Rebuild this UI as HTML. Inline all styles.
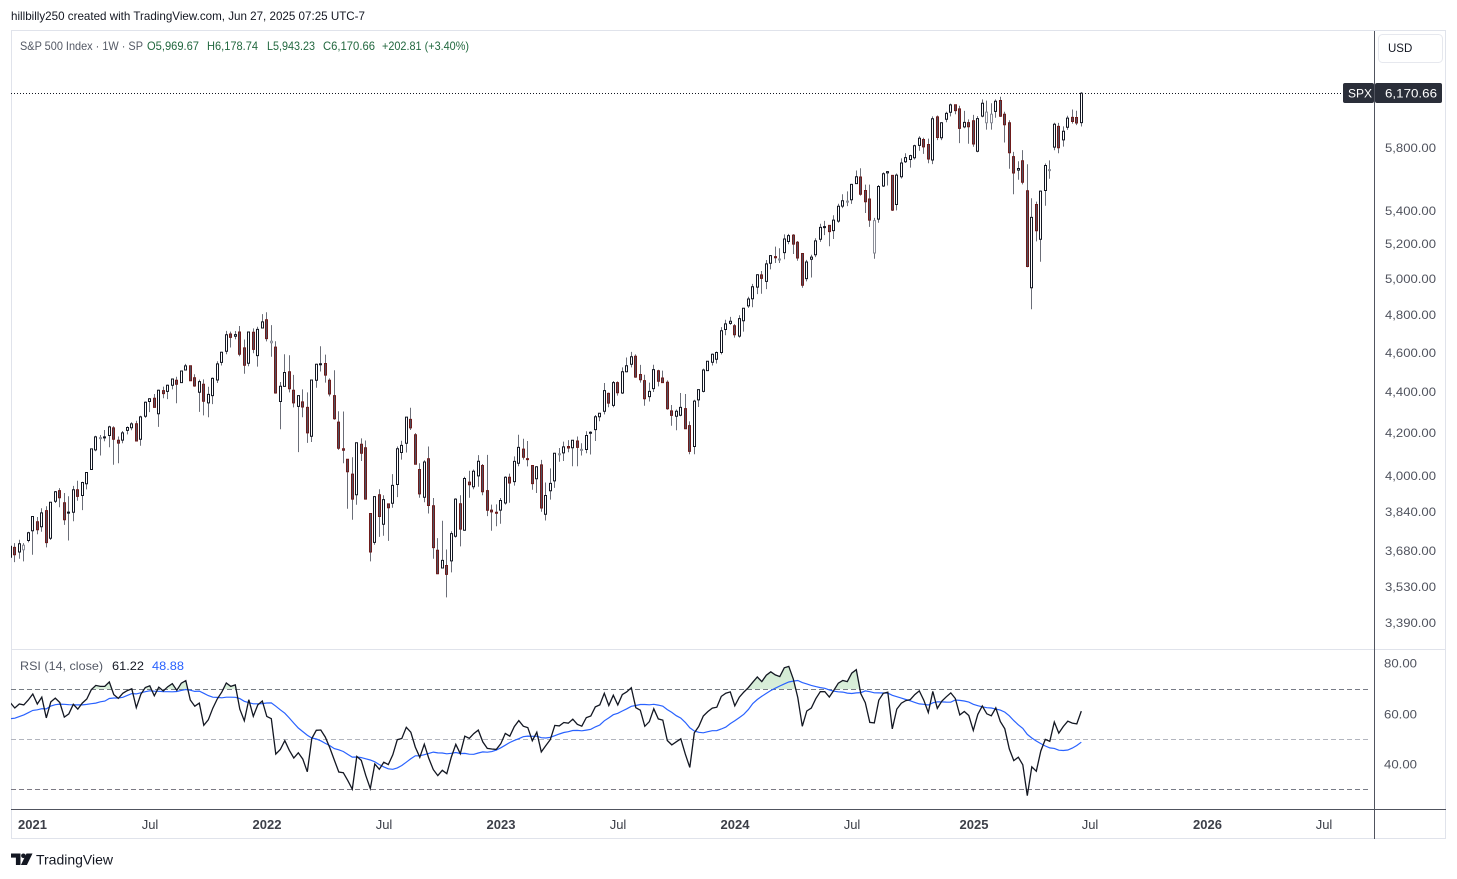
<!DOCTYPE html>
<html><head><meta charset="utf-8">
<style>
html,body{margin:0;padding:0;background:#fff;}
svg{display:block;font-family:"Liberation Sans",Arial,sans-serif;}
</style></head><body>
<svg id="s" width="1457" height="879" viewBox="0 0 1457 879" xmlns="http://www.w3.org/2000/svg">
<defs>
<clipPath id="cm"><rect x="11" y="31" width="1363" height="618"/></clipPath>
<clipPath id="cr"><rect x="11" y="650" width="1363" height="158"/></clipPath>
<clipPath id="c70"><rect x="11" y="650" width="1363" height="39.2"/></clipPath>
<clipPath id="c30"><rect x="11" y="789.6" width="1363" height="19"/></clipPath>
<linearGradient id="gg" x1="0" y1="0" x2="0" y2="1"><stop offset="0" stop-color="#4caf50" stop-opacity="0.25"/><stop offset="1" stop-color="#4caf50" stop-opacity="0.04"/></linearGradient>
<linearGradient id="gr" x1="0" y1="0" x2="0" y2="1"><stop offset="0" stop-color="#f23645" stop-opacity="0.04"/><stop offset="1" stop-color="#f23645" stop-opacity="0.25"/></linearGradient>
</defs>
<rect width="1457" height="879" fill="#fff"/>
<text x="11" y="20" font-size="12" fill="#131722" textLength="354" lengthAdjust="spacingAndGlyphs">hillbilly250 created with TradingView.com, Jun 27, 2025 07:25 UTC-7</text>

<!-- frame -->
<rect x="11.5" y="30.5" width="1434" height="808" fill="none" stroke="#e0e3eb"/>
<line x1="11" y1="649.5" x2="1446" y2="649.5" stroke="#e0e3eb"/>
<line x1="11" y1="809.5" x2="1446" y2="809.5" stroke="#50535e"/>
<line x1="1374.5" y1="31" x2="1374.5" y2="839" stroke="#50535e"/>

<!-- legend -->
<text x="20" y="50" font-size="12" fill="#555a66" textLength="123" lengthAdjust="spacingAndGlyphs">S&amp;P 500 Index · 1W · SP</text>
<text x="147" y="50" font-size="12" fill="#22683f" textLength="52" lengthAdjust="spacingAndGlyphs">O5,969.67</text>
<text x="207" y="50" font-size="12" fill="#22683f" textLength="51" lengthAdjust="spacingAndGlyphs">H6,178.74</text>
<text x="267" y="50" font-size="12" fill="#22683f" textLength="48" lengthAdjust="spacingAndGlyphs">L5,943.23</text>
<text x="323" y="50" font-size="12" fill="#22683f" textLength="52" lengthAdjust="spacingAndGlyphs">C6,170.66</text>
<text x="382" y="50" font-size="12" fill="#22683f" textLength="87" lengthAdjust="spacingAndGlyphs">+202.81 (+3.40%)</text>

<!-- USD box -->
<rect x="1378.5" y="34.5" width="64" height="28" rx="4" fill="#fff" stroke="#e6e8ee"/>
<text x="1388" y="52" font-size="11.5" fill="#131722">USD</text>

<!-- price axis labels -->
<g font-size="12" fill="#50535e">
<text x="1385" y="152" textLength="51" lengthAdjust="spacingAndGlyphs">5,800.00</text>
<text x="1385" y="215" textLength="51" lengthAdjust="spacingAndGlyphs">5,400.00</text>
<text x="1385" y="248" textLength="51" lengthAdjust="spacingAndGlyphs">5,200.00</text>
<text x="1385" y="283" textLength="51" lengthAdjust="spacingAndGlyphs">5,000.00</text>
<text x="1385" y="319" textLength="51" lengthAdjust="spacingAndGlyphs">4,800.00</text>
<text x="1385" y="357" textLength="51" lengthAdjust="spacingAndGlyphs">4,600.00</text>
<text x="1385" y="396" textLength="51" lengthAdjust="spacingAndGlyphs">4,400.00</text>
<text x="1385" y="437" textLength="51" lengthAdjust="spacingAndGlyphs">4,200.00</text>
<text x="1385" y="480" textLength="51" lengthAdjust="spacingAndGlyphs">4,000.00</text>
<text x="1385" y="516" textLength="51" lengthAdjust="spacingAndGlyphs">3,840.00</text>
<text x="1385" y="555" textLength="51" lengthAdjust="spacingAndGlyphs">3,680.00</text>
<text x="1385" y="591" textLength="51" lengthAdjust="spacingAndGlyphs">3,530.00</text>
<text x="1385" y="627" textLength="51" lengthAdjust="spacingAndGlyphs">3,390.00</text>
<text x="1384" y="667.5" textLength="33" lengthAdjust="spacingAndGlyphs">80.00</text>
<text x="1384" y="718.5" textLength="33" lengthAdjust="spacingAndGlyphs">60.00</text>
<text x="1384" y="768.5" textLength="33" lengthAdjust="spacingAndGlyphs">40.00</text>
</g>

<!-- RSI dashed levels -->
<line x1="11" y1="689.5" x2="1369" y2="689.5" stroke="#787b86" stroke-dasharray="5,3"/>
<line x1="11" y1="739.5" x2="1369" y2="739.5" stroke="#b2b5be" stroke-dasharray="5,3"/>
<line x1="11" y1="789.5" x2="1369" y2="789.5" stroke="#787b86" stroke-dasharray="5,3"/>

<!-- RSI legend -->
<text x="20" y="670" font-size="12" fill="#555a66" textLength="83" lengthAdjust="spacingAndGlyphs">RSI (14, close)</text>
<text x="112" y="670" font-size="12" fill="#131722" textLength="32" lengthAdjust="spacingAndGlyphs">61.22</text>
<text x="152" y="670" font-size="12" fill="#2962ff" textLength="32" lengthAdjust="spacingAndGlyphs">48.88</text>

<!-- time axis -->
<g font-size="13" fill="#3c3f48" text-anchor="middle">
<text x="32.5" y="829" font-weight="bold">2021</text>
<text x="150" y="829">Jul</text>
<text x="267" y="829" font-weight="bold">2022</text>
<text x="384" y="829">Jul</text>
<text x="501" y="829" font-weight="bold">2023</text>
<text x="618" y="829">Jul</text>
<text x="735" y="829" font-weight="bold">2024</text>
<text x="852" y="829">Jul</text>
<text x="974" y="829" font-weight="bold">2025</text>
<text x="1090" y="829">Jul</text>
<text x="1207.5" y="829" font-weight="bold">2026</text>
<text x="1324" y="829">Jul</text>
</g>

<g id="candles" clip-path="url(#cm)"></g>
<g id="rsi" clip-path="url(#cr)"></g>

<!-- last price line and labels -->
<line x1="11" y1="93.5" x2="1343" y2="93.5" stroke="#131722" stroke-dasharray="1,2"/>
<rect x="1343" y="83" width="31" height="20" rx="2" fill="#2a2e39"/>
<text x="1348" y="97.5" font-size="12" fill="#fff">SPX</text>
<rect x="1375" y="83" width="67" height="20" rx="2" fill="#2a2e39"/>
<text x="1385" y="97.5" font-size="12" fill="#fff" textLength="52" lengthAdjust="spacingAndGlyphs">6,170.66</text>

<!-- TradingView logo -->
<path d="M11 853.5h9.5v11.5h-4.6v-7.4h-4.9z" fill="#131722"/>
<circle cx="23.4" cy="855.8" r="2.3" fill="#131722"/>
<path d="M26.5 853.5h6l-5.6 11.5h-6z" fill="#131722"/>
<text x="36" y="864.5" font-size="14" fill="#131722" textLength="77" lengthAdjust="spacingAndGlyphs">TradingView</text>
</svg>
<script>
(function(){
var NS="http://www.w3.org/2000/svg";
var c20=[3235,3265,3330,3295,3226,3328,3380,3338,2954,2972,2711,2305,2541,2489,2790,2875,2837,2831,2930,2864,2955,3044,3194,3041,3098,3009,3130,3185,3225,3216,3271,3351,3373,3397,3508,3427,3341,3319,3298,3348,3477,3484,3465,3270,3510,3585,3558];
var pre=[[3566,3645,3556,3638],[3653,3712,3645,3699],[3694,3712,3633,3663],[3675,3726,3647,3709],[3684,3712,3636,3703],[3723,3760,3715,3756]];
var D=[
[3764,3826,3663,3825],[3803,3823,3749,3768],[3781,3861,3760,3841],[3851,3870,3694,3714],[3732,3887,3725,3887],[3892,3937,3884,3934],[3939,3950,3865,3907],[3885,3928,3789,3811],[3842,3914,3723,3842],[3844,3960,3805,3943],[3943,3983,3894,3913],[3917,3978,3853,3975],[3969,4020,3944,4020],[4034,4129,4034,4129],[4124,4191,4118,4185],[4179,4194,4098,4180],[4185,4218,4165,4181],[4192,4238,4137,4233],[4228,4236,4056,4174],[4169,4187,4062,4156],[4170,4213,4155,4204],[4216,4235,4197,4230],[4229,4255,4217,4247],[4248,4262,4164,4166],[4174,4286,4144,4281],[4284,4356,4276,4352],[4356,4372,4304,4370],[4372,4393,4327,4327],[4296,4415,4233,4412],[4410,4430,4372,4395],[4406,4440,4368,4437],[4437,4468,4416,4468],[4462,4480,4347,4442],[4450,4510,4449,4509],[4514,4545,4513,4535],[4536,4536,4458,4459],[4474,4492,4429,4433],[4402,4465,4305,4455],[4442,4466,4288,4357],[4349,4429,4279,4391],[4385,4476,4343,4471],[4463,4559,4448,4545],[4553,4608,4537,4605],[4610,4718,4595,4697],[4701,4714,4630,4683],[4689,4717,4673,4698],[4712,4744,4585,4595],[4628,4672,4495,4538],[4548,4713,4533,4712],[4711,4731,4600,4620],[4588,4740,4531,4726],[4733,4808,4733,4766],
[4778,4818,4662,4677],[4655,4749,4582,4663],[4632,4663,4395,4398],[4356,4453,4222,4432],[4431,4595,4431,4501],[4505,4590,4401,4419],[4412,4489,4327,4349],[4332,4385,4114,4385],[4354,4416,4279,4329],[4327,4401,4157,4204],[4188,4465,4161,4463],[4462,4546,4424,4543],[4541,4637,4506,4546],[4547,4593,4450,4488],[4462,4471,4381,4393],[4385,4513,4267,4272],[4256,4308,4124,4132],[4130,4307,4062,4123],[4081,4081,3859,4024],[4013,4090,3811,3901],[3920,4158,3876,4158],[4151,4178,4073,4109],[4134,4168,3900,3901],[3838,3838,3636,3675],[3715,3913,3705,3912],[3920,3945,3738,3825],[3792,3918,3743,3899],[3880,3880,3721,3863],[3883,4013,3863,3962],[3966,4140,3910,4130],[4112,4167,4079,4145],[4155,4280,4112,4280],[4269,4325,4218,4228],[4195,4203,4057,4058],[4034,4062,3907,3924],[3909,4076,3887,4068],[4083,4140,3838,3873],[3872,3906,3647,3693],[3682,3733,3584,3586],[3609,3807,3609,3640],[3619,3685,3491,3583],[3638,3762,3591,3752],[3741,3905,3735,3901],[3881,3918,3698,3771],[3766,4001,3764,3993],[3977,4028,3907,3965],[3956,4034,3945,4026],[4005,4100,3956,4072],[4052,4059,3918,3934],[3939,4101,3827,3852],[3853,3877,3764,3845],[3843,3878,3783,3840],
[3853,3906,3794,3895],[3884,4003,3877,3999],[3999,4015,3885,3973],[3979,4094,3961,4071],[4062,4195,4049,4136],[4128,4176,4079,4090],[4084,4166,4048,4079],[4052,4052,3943,3970],[3992,4049,3928,4046],[4055,4078,3846,3862],[3835,3975,3808,3917],[3938,4039,3899,3971],[3982,4110,3951,4109],[4103,4133,4069,4105],[4110,4163,4073,4138],[4140,4170,4113,4133],[4134,4170,4049,4169],[4166,4187,4049,4136],[4124,4155,4098,4124],[4126,4212,4109,4192],[4205,4212,4103,4205],[4220,4290,4166,4282],[4282,4299,4260,4299],[4308,4448,4293,4410],[4396,4400,4328,4348],[4337,4458,4328,4450],[4450,4456,4385,4399],[4398,4527,4393,4505],[4505,4578,4502,4536],[4543,4607,4527,4582],[4585,4594,4474,4478],[4491,4540,4450,4464],[4460,4490,4335,4370],[4380,4450,4356,4406],[4420,4541,4403,4516],[4510,4515,4431,4457],[4473,4511,4448,4450],[4452,4461,4316,4320],[4310,4339,4238,4288],[4284,4317,4217,4308],[4289,4398,4284,4327],[4321,4393,4223,4224],[4239,4259,4104,4117],[4140,4365,4104,4358],[4364,4415,4329,4415],[4406,4521,4401,4514],[4511,4560,4511,4559],[4554,4599,4537,4595],[4569,4609,4547,4604],[4604,4738,4594,4719],[4725,4778,4695,4755],[4758,4793,4751,4770],
[4745,4754,4682,4697],[4690,4802,4682,4784],[4772,4842,4714,4840],[4853,4903,4842,4891],[4892,4975,4846,4959],[4957,5030,4918,5027],[5026,5048,4920,5006],[4989,5111,4946,5089],[5093,5140,5057,5137],[5131,5189,5094,5124],[5111,5179,5094,5117],[5154,5261,5116,5234],[5219,5264,5203,5254],[5257,5263,5146,5204],[5215,5222,5107,5123],[5149,5150,4953,4967],[5005,5112,4989,5100],[5116,5142,5011,5128],[5142,5239,5128,5223],[5233,5325,5217,5303],[5305,5342,5257,5305],[5315,5315,5191,5278],[5284,5376,5234,5347],[5341,5447,5331,5431],[5432,5506,5420,5465],[5460,5523,5432,5460],[5471,5570,5446,5567],[5572,5655,5571,5615],[5614,5669,5497,5505],[5529,5566,5390,5459],[5476,5566,5306,5347],[5152,5360,5119,5344],[5353,5563,5331,5554],[5557,5643,5551,5635],[5640,5651,5560,5648],[5624,5624,5402,5408],[5442,5636,5406,5626],[5615,5733,5604,5703],[5711,5767,5703,5738],[5726,5757,5674,5751],[5737,5822,5726,5815],[5818,5878,5783,5865],[5857,5869,5762,5808],[5824,5863,5702,5729],[5723,6012,5696,5996],[6008,6018,5853,5870],[5868,5972,5853,5969],[5992,6044,5972,6032],[6040,6099,6012,6090],[6091,6091,6026,6051],[6063,6085,5833,5931],[5941,6049,5932,5971],[5970,5991,5829,5942],
[5982,6022,5809,5827],[5780,6014,5773,5997],[6014,6128,6006,6101],[5969,6120,5923,6041],[5969,6101,5923,6026],[6046,6128,6003,6115],[6121,6147,6008,6013],[6026,6044,5837,5955],[5969,5986,5666,5770],[5745,5775,5505,5639],[5658,5715,5597,5668],[5718,5787,5567,5581],[5527,5695,5069,5074],[4953,5481,4835,5363],[5442,5460,5220,5283],[5232,5529,5101,5525],[5529,5700,5434,5687],[5655,5720,5603,5660],[5807,5969,5786,5958],[5944,5968,5767,5803],[5854,5944,5810,5912],[5938,6016,5921,6000],[6005,6059,5963,5977],[6004,6050,5953,5967],[5969.67,6178.74,5943.23,6170.66]
];
var rows=pre.concat(D);
var K=885,LC=Math.log(6170.66),Y0=93.3;
function py(p){return Y0+K*(LC-Math.log(p));}
function fx(i){return Math.floor(32.8+4.5*i);}
var wick="",up="",upg="",dn="",dnd="",prev=3558;
for(var j=0;j<rows.length;j++){
  var r=rows[j],o=r[0],h=r[1],l=r[2],c=r[3];
  var x=fx(j-6);
  wick+="M"+(x+0.5)+" "+py(h).toFixed(1)+"V"+py(l).toFixed(1);
  var yt=py(Math.max(o,c)),yb=py(Math.min(o,c));
  if(yb-yt<1){var m=(yt+yb)/2;yt=m-0.5;yb=m+0.5;}
  var rect="M"+(x-0.5)+" "+yt.toFixed(1)+"h2V"+yb.toFixed(1)+"h-2Z";
  if(c>=o){ if(c>=prev) up+=rect; else upg+=rect; }
  else { if(c<prev) dn+=rect; else dnd+=rect; }
  prev=c;
}
function mk(d,fill,stroke,w){var p=document.createElementNS(NS,"path");p.setAttribute("d",d);p.setAttribute("fill",fill);p.setAttribute("stroke",stroke);p.setAttribute("stroke-width",w||1);return p;}
var g=document.getElementById("candles");
g.appendChild(mk(wick,"none","#6b6e78"));
g.appendChild(mk(up,"#fff","#131722"));
g.appendChild(mk(upg,"#fff","#8c8f99"));
g.appendChild(mk(dn,"#4e5362","#6e1b1b"));
g.appendChild(mk(dnd,"#4e5362","#131722"));

// RSI
var closes=c20.concat(rows.map(function(r){return r[3];}));
var n=closes.length,rsi=[],ag=0,al=0,k,d;
for(k=1;k<=14;k++){d=closes[k]-closes[k-1];if(d>0)ag+=d;else al-=d;}
ag/=14;al/=14;rsi[14]=100-100/(1+ag/al);
for(k=15;k<n;k++){d=closes[k]-closes[k-1];ag=(ag*13+(d>0?d:0))/14;al=(al*13+(d<0?-d:0))/14;rsi[k]=al===0?100:100-100/(1+ag/al);}
var ma=[];
for(k=27;k<n;k++){var s=0;for(var q=k-13;q<=k;q++)s+=rsi[q];ma[k]=s/14;}
function ry(v){return 739.4-(v-50)*2.52;}
var lp="",mp="",xs=[];
for(k=47;k<n;k++){
  var i=k-53,xx=(32.8+4.5*i).toFixed(1);
  lp+=(k===47?"M":"L")+xx+" "+ry(rsi[k]).toFixed(1);
  mp+=(k===47?"M":"L")+xx+" "+ry(ma[k]).toFixed(1);
  xs.push(xx);
}
var x0=xs[0],x1=xs[xs.length-1];
var gr=document.getElementById("rsi");
var f1=mk(lp+"L"+x1+" 689.2L"+x0+" 689.2Z","url(#gg)","none");f1.setAttribute("clip-path","url(#c70)");gr.appendChild(f1);
var f2=mk(lp+"L"+x1+" 789.6L"+x0+" 789.6Z","url(#gr)","none");f2.setAttribute("clip-path","url(#c30)");gr.appendChild(f2);
gr.appendChild(mk(mp,"none","#2962ff",1.2));
gr.appendChild(mk(lp,"none","#131722",1.3));
})();
</script>
</body></html>
